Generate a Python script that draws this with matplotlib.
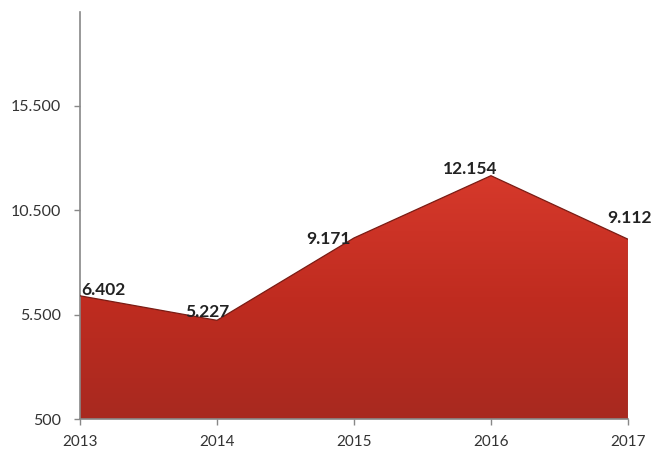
import matplotlib
matplotlib.use('Agg')
import matplotlib.pyplot as plt
import numpy as np
from matplotlib.patches import Polygon

anios = ['2013', '2014', '2015', '2016', '2017']
valores = [6402, 5227, 9171, 12154, 9112]
etiquetas = ['6.402', '5.227', '9.171', '12.154', '9.112']
yticks = [500, 5500, 10500, 15500]
yticklabels = ['500', '5.500', '10.500', '15.500']

plt.rcParams['font.family'] = ['Lato', 'DejaVu Sans']

fig = plt.figure(figsize=(6.61, 4.55), dpi=100)
ax = fig.add_axes([0.121, 0.079, 0.829, 0.895])
x = np.arange(len(anios))
ymin, ymax = 500, 20000

# relleno con degradado
verts = [(x[0], ymin)] + list(zip(x, valores)) + [(x[-1], ymin)]
poly = Polygon(verts, closed=True, facecolor='none', edgecolor='none')
ax.add_patch(poly)
grad = np.linspace(0, 1, 256).reshape(-1, 1)
cmap = matplotlib.colors.LinearSegmentedColormap.from_list(
    'rojo', ['#a8291f', '#c02c20', '#d6392b'])
img = ax.imshow(grad, extent=[x[0], x[-1], ymin, max(valores)],
                origin='lower', aspect='auto', cmap=cmap, zorder=2)
img.set_clip_path(poly)
ax.plot(x, valores, color='#7a1c14', linewidth=0.9, zorder=3)
ax.plot([x[-1], x[-1]], [ymin, valores[-1]], color='#7a1c14', linewidth=0.9, zorder=3)

ax.set_xlim(x[0], x[-1])
ax.set_ylim(ymin, ymax)
ax.set_xticks(x)
ax.set_xticklabels(anios, fontsize=11, color='#333333')
ax.set_yticks(yticks)
ax.set_yticklabels(yticklabels, fontsize=11.5, color='#333333')

for s in ['top', 'right']:
    ax.spines[s].set_visible(False)
for s in ['left', 'bottom']:
    ax.spines[s].set_color('#888888')
    ax.spines[s].set_linewidth(1.2)
ax.tick_params(colors='#888888', labelcolor='#333333', length=4.5, width=1)
ax.tick_params(axis='x', pad=7)
ax.tick_params(axis='y', pad=9)

# posición de las etiquetas (en puntos) respecto a cada punto
alineacion = ['left', 'right', 'right', 'right', 'center']
desp_x = [1, 9, -2, 5, 1]
desp_y = [0.5, 2.7, -4.5, 1.5, 12]
for xi, v, t, ha, dx, dy in zip(x, valores, etiquetas, alineacion, desp_x, desp_y):
    ax.annotate(t, (xi, v), xytext=(dx, dy), textcoords='offset points',
                ha=ha, va='baseline', fontsize=12.5, fontweight='bold',
                color='#222222', zorder=4, annotation_clip=False)

fig.savefig('out.png', dpi=100)
